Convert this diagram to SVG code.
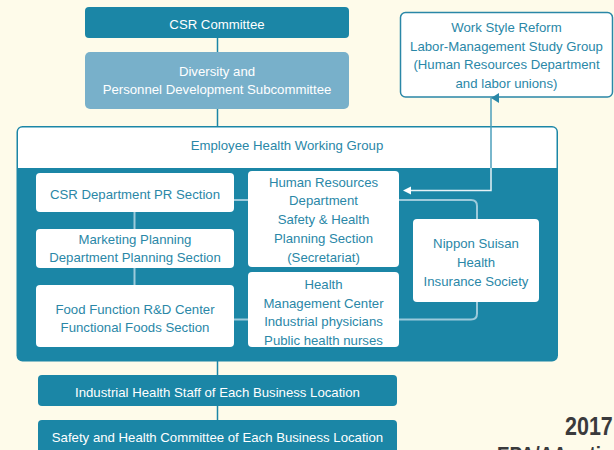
<svg xmlns="http://www.w3.org/2000/svg" width="614" height="450" viewBox="0 0 614 450">
  <style>
    text { font-family: "Liberation Sans", Arial, sans-serif; font-size: 13.2px; text-anchor: middle; }
    .wt { fill: #ffffff; }
    .tt { fill: #2a87a7; }
    .dark { fill: #1b86a6; }
    .light { fill: #78b0ca; }
    .card { fill: #ffffff; }
    .link { stroke: #1b86a6; stroke-width: 1.5; fill: none; }
    .inner { stroke: #9ccadb; stroke-width: 2; fill: none; }
  </style>
  <defs>
    <marker id="arrUp" markerWidth="10" markerHeight="10" refX="5" refY="0" orient="auto-start-reverse" markerUnits="userSpaceOnUse" viewBox="0 0 10 10">
      <path d="M0,8 L5,0 L10,8 Z" fill="#2a87a7"/>
    </marker>
  </defs>
  <rect width="614" height="450" fill="#fefbea"/>

  <!-- connectors -->
  <g id="connectors">
    <line class="link" x1="217.5" y1="38" x2="217.5" y2="52"/>
    <line class="link" x1="217.5" y1="109" x2="217.5" y2="127"/>
    <line class="link" x1="217.5" y1="361" x2="217.5" y2="375"/>
    <line class="link" x1="217.5" y1="406" x2="217.5" y2="420"/>
  </g>

  <g id="csr-committee">
    <rect class="dark" x="85" y="7" width="264" height="31" rx="4"/>
    <text class="wt" x="217" y="29">CSR Committee</text>
  </g>

  <g id="diversity">
    <rect class="light" x="85" y="52" width="264" height="57" rx="5"/>
    <text class="wt" x="217" y="75.5">Diversity and</text>
    <text class="wt" x="217" y="94">Personnel Development Subcommittee</text>
  </g>

  <g id="work-style">
    <rect x="400.5" y="12.5" width="212" height="84.5" rx="5" fill="#ffffff" stroke="#2a87a7" stroke-width="1.5"/>
    <text class="tt" x="506.5" y="31.5">Work Style Reform</text>
    <text class="tt" x="506.5" y="50.5">Labor-Management Study Group</text>
    <text class="tt" x="506.5" y="69">(Human Resources Department</text>
    <text class="tt" x="506.5" y="87.5">and labor unions)</text>
  </g>

  <g id="working-group">
    <rect class="dark" x="16.5" y="126" width="541.5" height="235.5" rx="6"/>
    <path d="M18,168 V132 Q18,127.5 22.5,127.5 H552 Q556.5,127.5 556.5,132 V168 Z" fill="#ffffff"/>
    <text class="tt" x="287" y="150">Employee Health Working Group</text>

    <!-- internal links -->
    <g id="inner-links">
      <line class="inner" x1="134.5" y1="211" x2="134.5" y2="229"/>
      <line class="inner" x1="134.5" y1="267" x2="134.5" y2="285"/>
      <line class="inner" x1="234" y1="200" x2="248" y2="200"/>
      <line class="inner" x1="234" y1="319.5" x2="248" y2="319.5"/>
      <path class="inner" d="M399,200 H471 Q477,200 477,206 V219"/>
      <path class="inner" d="M399,319.5 H471 Q477,319.5 477,313.5 V302"/>
    </g>

    <g id="csr-pr">
      <rect class="card" x="36" y="173" width="198" height="39" rx="4"/>
      <text class="tt" x="135" y="198.5">CSR Department PR Section</text>
    </g>
    <g id="marketing">
      <rect class="card" x="36" y="229" width="198" height="39" rx="4"/>
      <text class="tt" x="135" y="243.5">Marketing Planning</text>
      <text class="tt" x="135" y="261.5">Department Planning Section</text>
    </g>
    <g id="food-function">
      <rect class="card" x="36" y="285" width="198" height="62" rx="4"/>
      <text class="tt" x="135" y="313.5">Food Function R&amp;D Center</text>
      <text class="tt" x="135" y="332">Functional Foods Section</text>
    </g>
    <g id="hr-safety">
      <rect class="card" x="248" y="171" width="151" height="96" rx="4"/>
      <text class="tt" x="323.5" y="187">Human Resources</text>
      <text class="tt" x="323.5" y="205">Department</text>
      <text class="tt" x="323.5" y="224">Safety &amp; Health</text>
      <text class="tt" x="323.5" y="243">Planning Section</text>
      <text class="tt" x="323.5" y="262">(Secretariat)</text>
    </g>
    <g id="health-mgmt">
      <rect class="card" x="248" y="272" width="151" height="75" rx="4"/>
      <text class="tt" x="323.5" y="289">Health</text>
      <text class="tt" x="323.5" y="307.5">Management Center</text>
      <text class="tt" x="323.5" y="326">Industrial physicians</text>
      <text class="tt" x="323.5" y="344.5">Public health nurses</text>
    </g>
    <g id="nippon-suisan">
      <rect class="card" x="413" y="219" width="126" height="83" rx="4"/>
      <text class="tt" x="476" y="248">Nippon Suisan</text>
      <text class="tt" x="476" y="267">Health</text>
      <text class="tt" x="476" y="285.5">Insurance Society</text>
    </g>
  </g>

  <!-- two-way link between the study group and HR -->
  <g id="study-link">
    <line x1="491" y1="98" x2="491" y2="168" stroke="#4d9fbb" stroke-width="1.5" marker-start="url(#arrUp)"/>
    <path d="M491,168 V190.5 H409" stroke="#e6f2f6" stroke-width="1.5" fill="none"/>
    <path d="M403,190.5 L411,186.5 L411,194.5 Z" fill="#ffffff"/>
  </g>

  <g id="industrial-staff">
    <rect class="dark" x="38" y="375" width="359" height="31" rx="4"/>
    <text class="wt" x="217.5" y="396.5">Industrial Health Staff of Each Business Location</text>
  </g>

  <g id="safety-committee">
    <rect class="dark" x="38" y="420" width="359" height="36" rx="4"/>
    <text class="wt" x="217.5" y="441.5">Safety and Health Committee of Each Business Location</text>
  </g>

  <text x="565" y="435" style="font-size:25px;font-weight:bold;text-anchor:start;fill:#3a3a3c" transform="translate(565 0) scale(0.86 1) translate(-565 0)">2017</text>
  <text x="497" y="462" style="font-size:22px;font-weight:bold;text-anchor:start;fill:#3a3a3c" transform="translate(497 0) scale(0.86 1) translate(-497 0)">EPA/AA ratio</text>
</svg>
